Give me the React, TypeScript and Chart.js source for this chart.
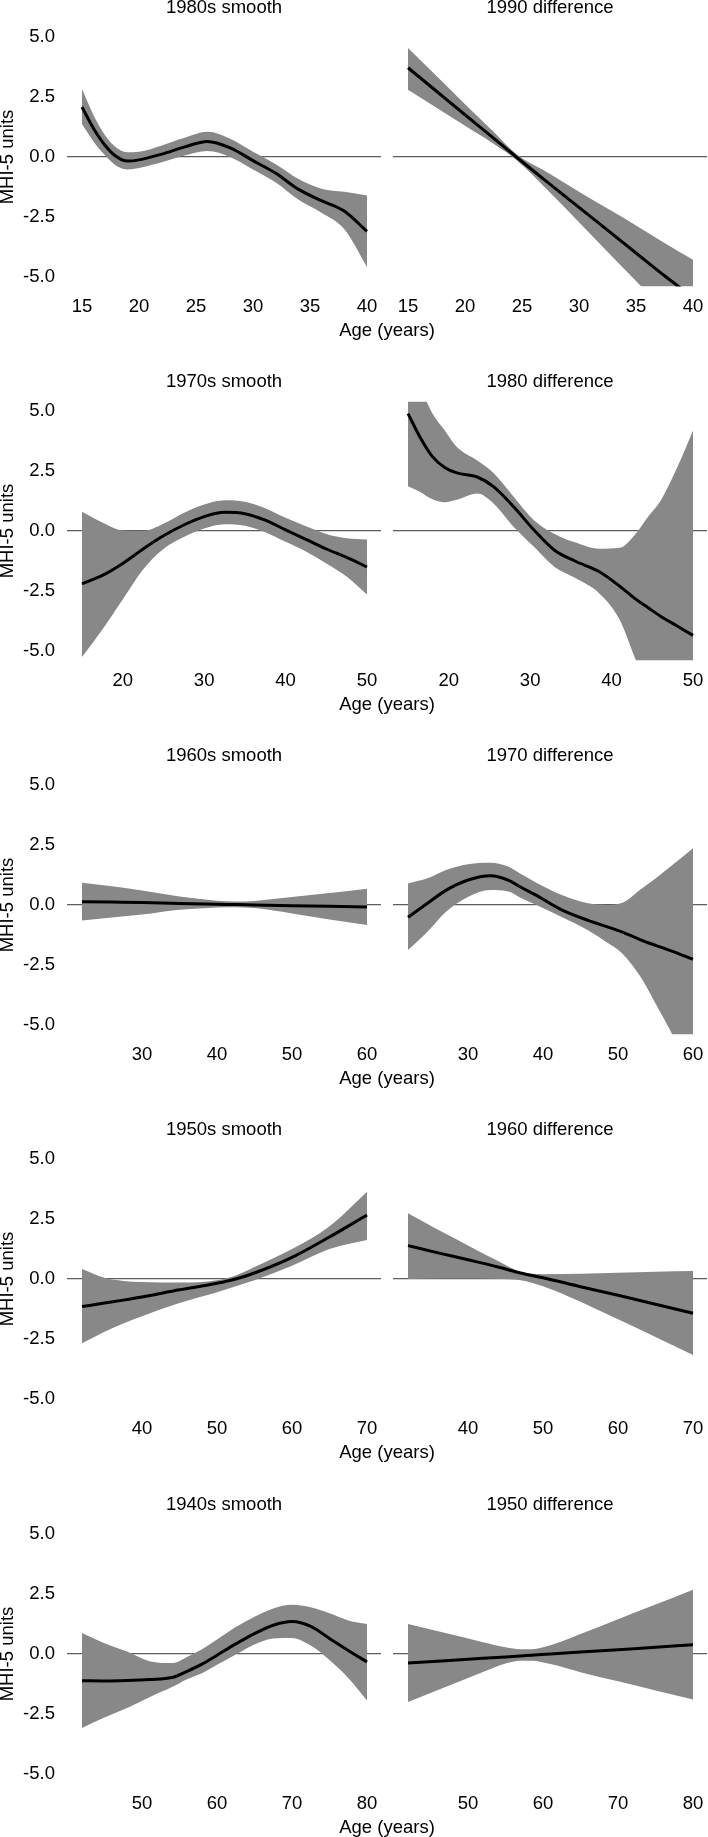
import React, { useEffect, useRef } from "react";
import { Chart, registerables } from "chart.js";

Chart.register(...registerables);

// ---------------- data ----------------
// Row 1 : 1980s smooth / 1990 difference
const p1Ages = [15, 16, 17, 18, 19, 20, 22, 24, 26, 28, 30, 32, 34, 36, 38, 40];
const p1Mean = [2.08, 1.2, 0.5, 0.02, -0.17, -0.12, 0.12, 0.42, 0.65, 0.38, -0.15, -0.68, -1.35, -1.82, -2.25, -3.1];
const p1Upper = [2.83, 1.75, 0.92, 0.4, 0.2, 0.22, 0.48, 0.8, 1.05, 0.76, 0.22, -0.3, -0.92, -1.32, -1.45, -1.6];
const p1Lower = [1.37, 0.65, 0.08, -0.36, -0.52, -0.46, -0.22, 0.06, 0.25, 0.0, -0.52, -1.06, -1.78, -2.32, -3.0, -4.58];

const p2Ages = [15, 17.5, 20, 22.5, 24.5, 27.5, 30, 32.5, 35, 37.5, 40];
const p2Mean = [3.72, 2.74, 1.76, 0.79, 0.0, -1.15, -2.1, -3.05, -4.0, -4.95, -5.85];
const p2Upper = [4.54, 3.37, 2.2, 1.05, 0.12, -0.72, -1.45, -2.15, -2.85, -3.58, -4.28];
const p2Lower = [2.8, 2.05, 1.3, 0.55, -0.12, -1.5, -2.72, -3.95, -5.17, -6.4, -7.6];

// Row 2 : 1970s smooth / 1980 difference
const p3Ages = [15, 17.5, 20, 22.5, 25, 27.5, 30, 32.5, 35, 37.5, 40, 42.5, 45, 47.5, 50];
const p3Mean = [-2.2, -1.85, -1.35, -0.75, -0.2, 0.25, 0.6, 0.78, 0.72, 0.45, 0.05, -0.35, -0.75, -1.1, -1.5];
const p3Upper = [0.8, 0.35, 0.02, 0.0, 0.3, 0.75, 1.1, 1.28, 1.22, 0.95, 0.55, 0.2, -0.12, -0.3, -0.35];
const p3Lower = [-5.25, -4.1, -2.85, -1.6, -0.75, -0.25, 0.1, 0.28, 0.22, -0.05, -0.45, -0.85, -1.35, -1.9, -2.65];

const p4Ages = [15, 16.5, 18, 19.5, 21, 23.5, 25.5, 28, 30.5, 33, 35.5, 38.5, 41, 43, 44.5, 46, 48, 50];
const p4Mean = [4.89, 3.9, 3.1, 2.65, 2.42, 2.25, 1.85, 1.0, 0.03, -0.8, -1.25, -1.7, -2.3, -2.85, -3.2, -3.55, -3.95, -4.35];
const p4Upper = [7.2, 6.0, 4.9, 4.2, 3.5, 2.94, 2.42, 1.42, 0.44, -0.12, -0.47, -0.74, -0.7, -0.1, 0.6, 1.25, 2.6, 4.19];
const p4Lower = [1.86, 1.63, 1.32, 1.2, 1.3, 1.56, 1.15, 0.17, -0.67, -1.5, -1.95, -2.6, -3.7, -5.4, -6.5, -7.5, -8.5, -9.5];

// Row 3 : 1960s smooth / 1970 difference
const p5Ages = [22, 26, 30, 35, 40, 42.5, 45, 50, 55, 60];
const p5Mean = [0.14, 0.12, 0.1, 0.06, 0.03, 0.02, 0.0, -0.03, -0.05, -0.08];
const p5Upper = [0.93, 0.78, 0.6, 0.35, 0.18, 0.15, 0.17, 0.33, 0.5, 0.68];
const p5Lower = [-0.65, -0.52, -0.4, -0.2, -0.1, -0.09, -0.13, -0.35, -0.6, -0.83];

const p6Ages = [22, 24.5, 27, 30, 33, 35.5, 37, 39, 42.5, 46, 48.5, 50.5, 53, 55, 57, 60];
const p6Mean = [-0.51, 0.05, 0.6, 1.04, 1.22, 1.02, 0.75, 0.42, -0.2, -0.64, -0.9, -1.12, -1.45, -1.68, -1.9, -2.26];
const p6Upper = [0.9, 1.1, 1.45, 1.7, 1.76, 1.58, 1.3, 0.95, 0.42, 0.07, 0.0, 0.08, 0.65, 1.1, 1.6, 2.36];
const p6Lower = [-1.88, -1.15, -0.3, 0.33, 0.62, 0.55, 0.3, 0.02, -0.5, -1.05, -1.55, -2.0, -2.99, -4.1, -5.25, -7.2];

// Row 4 : 1950s smooth / 1960 difference
const p7Ages = [32, 35, 37.5, 40, 45, 50, 52.5, 55, 60, 65, 70];
const p7Mean = [-1.15, -1.0, -0.88, -0.75, -0.45, -0.18, 0.0, 0.25, 0.9, 1.75, 2.67];
const p7Upper = [0.42, 0.05, -0.08, -0.12, -0.15, -0.05, 0.15, 0.5, 1.25, 2.2, 3.64];
const p7Lower = [-2.68, -2.2, -1.85, -1.55, -1.0, -0.55, -0.3, -0.05, 0.55, 1.25, 1.63];

const p8Ages = [32, 36, 40, 44, 47, 50, 55, 60, 65, 70];
const p8Mean = [1.39, 1.09, 0.8, 0.5, 0.25, 0.05, -0.32, -0.68, -1.05, -1.43];
const p8Upper = [2.74, 2.05, 1.4, 0.75, 0.3, 0.2, 0.22, 0.26, 0.3, 0.33];
const p8Lower = [0.0, 0.02, 0.02, 0.0, -0.05, -0.3, -0.95, -1.68, -2.42, -3.17];

// Row 5 : 1940s smooth / 1950 difference
const p9Ages = [42, 45, 48, 51, 54, 56, 58, 60, 62.5, 65, 67.5, 70, 72.5, 75, 77.5, 80];
const p9Mean = [-1.11, -1.12, -1.1, -1.06, -0.98, -0.72, -0.42, -0.05, 0.42, 0.85, 1.2, 1.35, 1.15, 0.65, 0.15, -0.33];
const p9Upper = [0.88, 0.45, 0.1, -0.3, -0.38, -0.12, 0.2, 0.6, 1.12, 1.55, 1.9, 2.05, 1.95, 1.7, 1.4, 1.25];
const p9Lower = [-3.08, -2.65, -2.25, -1.8, -1.38, -1.05, -0.8, -0.45, -0.02, 0.4, 0.65, 0.67, 0.35, -0.25, -1.0, -1.94];

const p10Ages = [42, 47, 52, 55, 57, 58.5, 61, 65, 70, 75, 80];
const p10Mean = [-0.38, -0.28, -0.18, -0.12, -0.08, -0.05, 0.0, 0.08, 0.18, 0.28, 0.39];
const p10Upper = [1.25, 0.87, 0.49, 0.28, 0.2, 0.2, 0.36, 0.83, 1.45, 2.06, 2.68];
const p10Lower = [-2.0, -1.38, -0.75, -0.4, -0.28, -0.28, -0.42, -0.76, -1.14, -1.52, -1.9];

// axes
const rowAgeRanges = [
  [15, 40],
  [15, 50],
  [22, 60],
  [32, 70],
  [42, 80],
];
const rowXTicks = [
  [15, 20, 25, 30, 35, 40],
  [20, 30, 40, 50],
  [30, 40, 50, 60],
  [40, 50, 60, 70],
  [50, 60, 70, 80],
];
const yTicks = [-5, -2.5, 0, 2.5, 5];
const leftTitles = ["1980s smooth", "1970s smooth", "1960s smooth", "1950s smooth", "1940s smooth"];
const rightTitles = ["1990 difference", "1980 difference", "1970 difference", "1960 difference", "1950 difference"];
const yAxisLabel = "MHI-5 units";
const xAxisLabel = "Age (years)";

const panels = [
  [
    { ages: p1Ages, mean: p1Mean, upper: p1Upper, lower: p1Lower },
    { ages: p2Ages, mean: p2Mean, upper: p2Upper, lower: p2Lower },
  ],
  [
    { ages: p3Ages, mean: p3Mean, upper: p3Upper, lower: p3Lower },
    { ages: p4Ages, mean: p4Mean, upper: p4Upper, lower: p4Lower },
  ],
  [
    { ages: p5Ages, mean: p5Mean, upper: p5Upper, lower: p5Lower },
    { ages: p6Ages, mean: p6Mean, upper: p6Upper, lower: p6Lower },
  ],
  [
    { ages: p7Ages, mean: p7Mean, upper: p7Upper, lower: p7Lower },
    { ages: p8Ages, mean: p8Mean, upper: p8Upper, lower: p8Lower },
  ],
  [
    { ages: p9Ages, mean: p9Mean, upper: p9Upper, lower: p9Lower },
    { ages: p10Ages, mean: p10Mean, upper: p10Upper, lower: p10Lower },
  ],
];

// ---------------- layout / style ----------------
const W = 708;
const H = 374;
const ZC = 180; // zero line position inside each canvas
const ROW_ZERO0 = 156.7;
const ROW_PITCH = 374.25;
const FONT = "'Liberation Sans', Arial, Helvetica, sans-serif";
const FS = 18.5;
const TEXT = "#000000";
const BAND = "#888888";
const ZERO_LINE = "#5e5e5e";

const ageLabelPlugin = {
  id: "ageLabel",
  afterDraw(chart: any) {
    const ctx = chart.ctx;
    ctx.save();
    ctx.font = `${FS}px ${FONT}`;
    ctx.fillStyle = TEXT;
    ctx.textAlign = "center";
    ctx.textBaseline = "middle";
    ctx.fillText(xAxisLabel, 387, ZC + 174);
    ctx.restore();
  },
};

function Panel({ row, side }: { row: number; side: "left" | "right" }) {
  const ref = useRef<HTMLCanvasElement>(null);
  const top = Math.round(ROW_ZERO0 + row * ROW_PITCH) - ZC;

  useEffect(() => {
    const isLeft = side === "left";
    const p = panels[row][isLeft ? 0 : 1];
    const [a, b] = rowAgeRanges[row];
    const span = b - a;
    const xMin = a - (15 * span) / 285;
    const xMax = b + (14 * span) / 285;
    const ticks = rowXTicks[row];
    const font = { family: FONT, size: FS, weight: "normal" as const };

    const chart = new Chart(ref.current as HTMLCanvasElement, {
      type: "line",
      data: {
        datasets: [
          {
            data: p.ages.map((x, i) => ({ x, y: p.mean[i] })),
            borderColor: "#000000",
            borderWidth: 3,
            pointRadius: 0,
            fill: false,
            cubicInterpolationMode: "monotone",
            clip: 0,
          } as any,
          {
            data: p.ages.map((x, i) => ({ x, y: p.upper[i] })),
            borderColor: "rgba(0,0,0,0)",
            borderWidth: 0,
            pointRadius: 0,
            backgroundColor: BAND,
            fill: "+1",
            cubicInterpolationMode: "monotone",
            clip: 0,
          },
          {
            data: p.ages.map((x, i) => ({ x, y: p.lower[i] })),
            borderColor: "rgba(0,0,0,0)",
            borderWidth: 0,
            pointRadius: 0,
            fill: false,
            cubicInterpolationMode: "monotone",
            clip: 0,
          },
        ],
      },
      options: {
        responsive: false,
        animation: false,
        events: [],
        layout: {
          padding: { left: isLeft ? 0 : 393, right: isLeft ? 327 : 1, top: 19.4, bottom: 24.4 },
        },
        plugins: {
          legend: { display: false },
          tooltip: { enabled: false },
          title: {
            display: true,
            text: isLeft ? leftTitles[row] : rightTitles[row],
            fullSize: false,
            color: TEXT,
            font: { ...font, lineHeight: 1.2 },
            padding: { top: 0, bottom: 8.8 },
          },
        },
        scales: {
          x: {
            type: "linear",
            min: xMin,
            max: xMax,
            grid: { display: false, drawTicks: false },
            border: { display: false },
            afterBuildTicks: (s: any) => {
              s.ticks = ticks.map((v) => ({ value: v }));
            },
            afterFit: (s: any) => {
              s.height = 40;
              s.paddingLeft = 0;
              s.paddingRight = 0;
            },
            ticks: {
              autoSkip: false,
              maxRotation: 0,
              padding: 8.8,
              color: TEXT,
              font,
              callback: (v: any) => String(v),
            },
          },
          y: {
            type: "linear",
            min: -5.4,
            max: 5.4,
            border: { display: false },
            grid: {
              drawTicks: false,
              lineWidth: 1.3,
              color: (c: any) => (c.tick && c.tick.value === 0 ? ZERO_LINE : "rgba(0,0,0,0)"),
            },
            afterBuildTicks: (s: any) => {
              s.ticks = yTicks.map((v) => ({ value: v }));
            },
            afterFit: (s: any) => {
              s.width = isLeft ? 67 : 0;
              s.paddingTop = 0;
              s.paddingBottom = 0;
            },
            ticks: {
              display: isLeft,
              padding: 12,
              color: TEXT,
              font,
              callback: (v: any) => Number(v).toFixed(1),
            },
            title: {
              display: isLeft,
              text: yAxisLabel,
              color: TEXT,
              font: { ...font, lineHeight: 0.81 },
              padding: 0,
            },
          },
        },
      },
      plugins: isLeft ? [ageLabelPlugin] : [],
    } as any);
    return () => chart.destroy();
  }, [row, side]);

  return (
    <canvas
      ref={ref}
      width={W}
      height={H}
      style={{ position: "absolute", left: 0, top, width: W, height: H, display: "block" }}
    />
  );
}

export default function App() {
  return (
    <div
      style={{
        position: "absolute",
        left: 0,
        top: 0,
        width: W,
        height: 1837,
        overflow: "hidden",
        background: "#ffffff",
      }}
    >
      {[0, 1, 2, 3, 4].map((r) => (
        <React.Fragment key={r}>
          <Panel row={r} side="left" />
          <Panel row={r} side="right" />
        </React.Fragment>
      ))}
    </div>
  );
}
